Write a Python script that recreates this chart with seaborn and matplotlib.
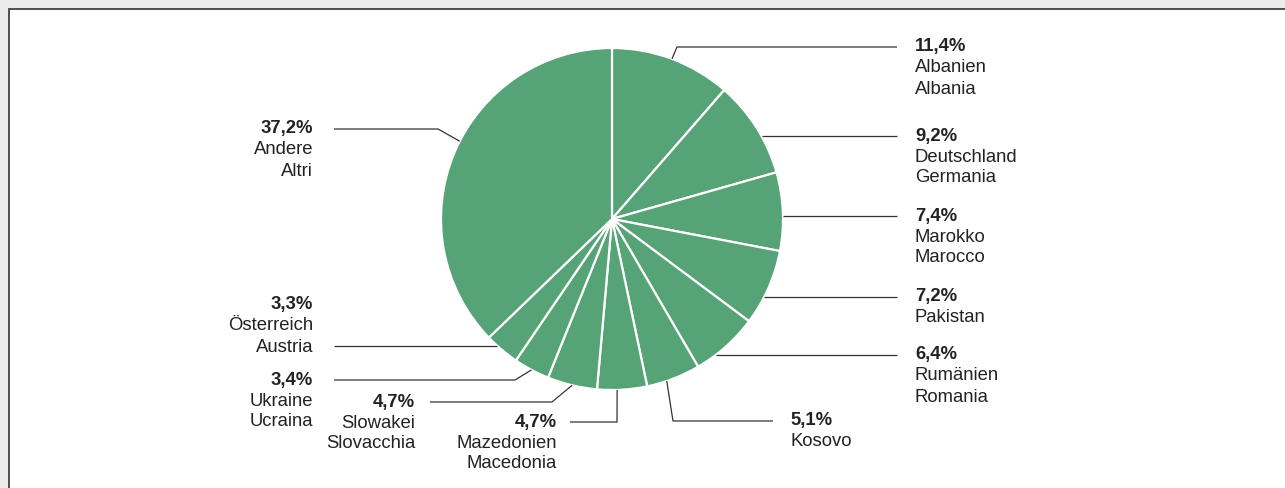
"""
Pie chart: foreign residents by country of citizenship (DE / IT labels).
"""
import matplotlib.pyplot as plt
import numpy as np
import seaborn as sns
from matplotlib.patches import Rectangle

# data
values = [11.4, 9.2, 7.4, 7.2, 6.4, 5.1, 4.7, 4.7, 3.4, 3.3, 37.2]
names_de = ["Albanien", "Deutschland", "Marokko", "Pakistan", "Rumänien",
            "Kosovo", "Mazedonien", "Slowakei", "Ukraine", "Österreich",
            "Andere"]
names_it = ["Albania", "Germania", "Marocco", "", "Romania", "",
            "Macedonia", "Slovacchia", "Ucraina", "Austria", "Altri"]

# layout, in pixels from the top-left corner:
# (text x, line y, line end x, elbow x or None, side, first-line offset,
#  where along the wedge the leader starts: 0 = start, 1 = end)
label_layout = [
    (915, 47, 897, 677, "right", 0, 0.5),
    (915, 136, 897, None, "right", 0, 0.5),
    (915, 216, 897, None, "right", 0, 0.5),
    (915, 297, 897, None, "right", 0, 0.5),
    (915, 355, 897, None, "right", 0, 0.5),
    (790, 421, 773, 673, "right", 0, 0.63),
    (557, 422, 570, 617, "left", 0, 0.6),
    (415, 402, 430, 552, "left", 0, 0.5),
    (313, 380, 334, 515, "left", 0, 0.5),
    (313, 346, 334, None, "left", -41, 0.5),
    (313, 129, 334, 438, "left", 0, 0.53),
]

W, H = 1285, 488
CX, CY, R = 612, 219, 171
GREEN = "#55a376"
TEXT = "#222222"
LINE = "#333333"
LINE_GAP = 21

sns.set_theme(style="white")
plt.rcParams["font.family"] = ["Liberation Sans", "DejaVu Sans"]


def py(y):
    # pixel row -> data y (y axis points up)
    return H - y


fig = plt.figure(figsize=(W / 100, H / 100), dpi=100, facecolor="#ebeceb")
ax = fig.add_axes([0, 0, 1, 1])
ax.set_facecolor("none")

# white panel with dark top/left border, running off the right and bottom
ax.add_patch(Rectangle((8.5, -200), W + 400, py(9) + 200, facecolor="white",
                       edgecolor="#333333", linewidth=1.2, clip_on=True,
                       zorder=0))

wedges, _ = ax.pie(values, startangle=90, counterclock=False,
                   colors=[GREEN], center=(CX, py(CY)), radius=R,
                   wedgeprops=dict(edgecolor="white", linewidth=1.6),
                   frame=False)

for i, w in enumerate(wedges):
    tx, ly, lend, ex, side, off, frac = label_layout[i]
    left = side == "left"
    if ex is None:
        dy = CY - ly
        dx = np.sqrt(max(R ** 2 - dy ** 2, 0))
        sx = CX - dx if left else CX + dx
        xs, ys = [sx, lend], [ly, ly]
    else:
        ang = np.deg2rad(w.theta2 - frac * (w.theta2 - w.theta1))
        sx = CX + R * np.cos(ang)
        sy = CY - R * np.sin(ang)
        xs, ys = [sx, ex, lend], [sy, ly, ly]
    ax.plot(xs, [py(v) for v in ys], color=LINE, linewidth=0.9,
            solid_capstyle="butt", zorder=3)

    ha = "right" if left else "left"
    y0 = ly + off
    pct = f"{values[i]:.1f}".replace(".", ",") + "%"
    ax.text(tx, py(y0), pct, ha=ha, va="center", fontsize=13.3,
            fontweight="bold", color=TEXT)
    lines = [names_de[i]] + ([names_it[i]] if names_it[i] else [])
    for k, s in enumerate(lines):
        ax.text(tx, py(y0 + LINE_GAP * (k + 1)), s, ha=ha, va="center",
                fontsize=13.3, color=TEXT)

ax.set_xlim(0, W)
ax.set_ylim(0, H)
ax.set_axis_off()

fig.savefig("out.png", dpi=100, facecolor=fig.get_facecolor())
